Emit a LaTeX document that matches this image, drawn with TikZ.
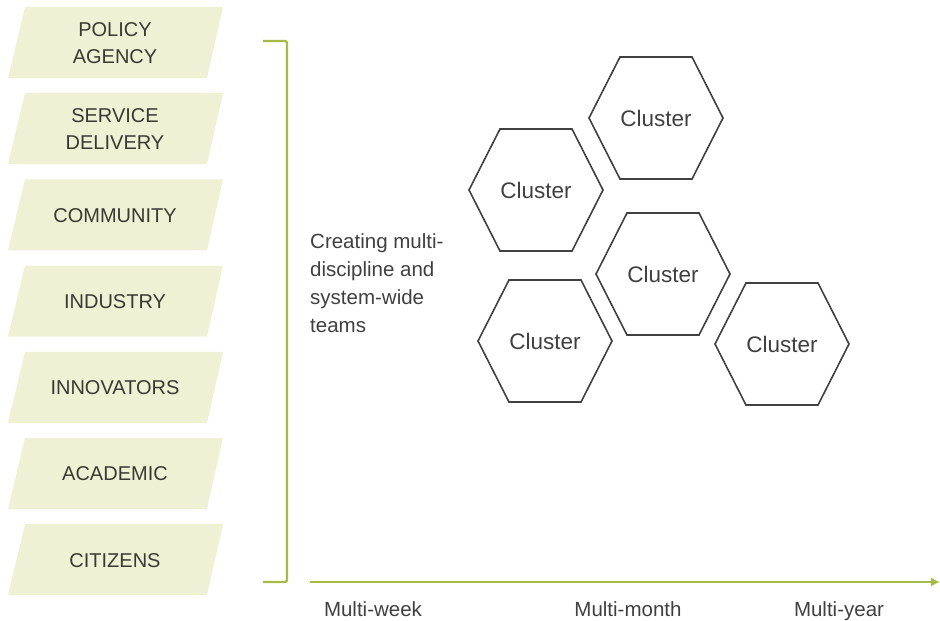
\documentclass[tikz,border=0pt]{standalone}
\usepackage{fontspec}
\setmainfont{Liberation Sans}
\usetikzlibrary{arrows.meta}
\begin{document}
\definecolor{boxfill}{RGB}{239,241,212}
\definecolor{olive}{RGB}{166,186,72}
\definecolor{ink}{RGB}{64,64,64}
\definecolor{bandink}{RGB}{58,58,50}
\begin{tikzpicture}[x=1pt,y=-1pt,
  sector/.style={font=\fontsize{20}{27}\selectfont, text=bandink, align=center, inner sep=0pt},
  hexlabel/.style={font=\fontsize{22.5}{27}\selectfont, text=ink, inner sep=0pt},
  hexline/.style={draw=ink, line width=1.6pt, line join=miter},
  axislabel/.style={font=\fontsize{20.5}{25}\selectfont, text=ink, inner sep=0pt},
  brace/.style={draw=olive, line width=2.4pt, rounded corners=1.5pt},
  timeline/.style={draw=olive, line width=2.4pt, -{Latex[length=9pt,width=9pt]}},
]
\useasboundingbox (0,0) rectangle (940,621);

% stakeholder bands
\foreach \i/\name/\txt in {0/policy/{POLICY\\AGENCY},
                           1/service/{SERVICE\\DELIVERY},
                           2/community/COMMUNITY,
                           3/industry/INDUSTRY,
                           4/innovators/INNOVATORS,
                           5/academic/ACADEMIC,
                           6/citizens/CITIZENS}{
  \pgfmathsetmacro{\bandtop}{7+86.2*\i}
  \fill[boxfill] (25,\bandtop) -- (223,\bandtop) -- (207,\bandtop+71) -- (8,\bandtop+71) -- cycle;
  \node[sector] (\name) at (115,\bandtop+36) {\txt};
}

% bracket grouping the bands
\coordinate (bt) at (263,41);
\coordinate (bb) at (263,582);
\draw[brace] (bt) -- (287,41) -- (287,582) -- (bb);

% side caption
\node[axislabel, align=left, anchor=north west, font=\fontsize{20.5}{28}\selectfont]
  (caption) at (310,233) {Creating multi-\\discipline and\\system-wide\\teams};

% time axis
\coordinate (t0) at (310,582);
\coordinate (t1) at (940,582);
\draw[timeline] (t0) -- (t1);
\node[axislabel, anchor=base] (week)  at (373,616) {Multi-week};
\node[axislabel, anchor=base] (month) at (628,616) {Multi-month};
\node[axislabel, anchor=base] (year)  at (839,616) {Multi-year};

% clusters
\foreach \name/\cx/\cy in {ca/656/118, cb/536/190, cc/663/274, cd/545/341, ce/782/344}{
  \node[hexlabel] (\name) at (\cx,\cy) {Cluster};
  \draw[hexline, shift={(\name.center)}]
    (-67,0) -- (-36,-61) -- (36,-61) -- (67,0) -- (36,61) -- (-36,61) -- cycle;
}
\end{tikzpicture}
\end{document}
